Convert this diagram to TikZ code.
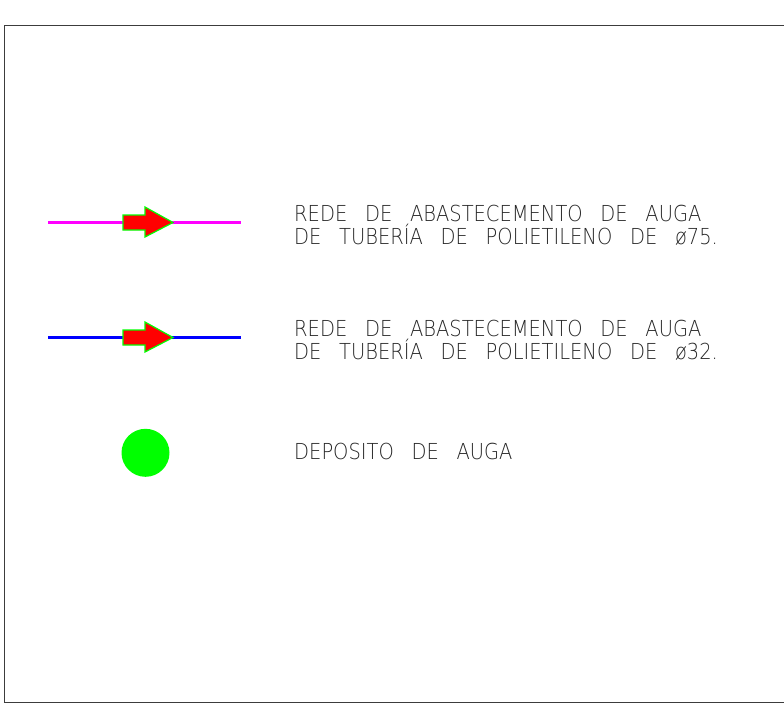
\documentclass[tikz,border=0pt]{standalone}
\usepackage{fontspec}
\setmainfont{DejaVu Sans ExtraLight}
\definecolor{cadgreen}{RGB}{0,255,0}
\definecolor{cadred}{RGB}{255,0,0}
\definecolor{cadmag}{RGB}{255,0,255}
\definecolor{cadblue}{RGB}{0,0,255}
\definecolor{framegray}{RGB}{60,60,60}
\newcommand{\W}{\hspace{20pt}}
\newcommand{\legline}[1]{\scalebox{0.885}[1]{#1}}
\begin{document}
\begin{tikzpicture}[x=1pt,y=-1pt,
  pipe/.style={line width=3pt},
  flowarrow/.style={fill=cadred,draw=cadgreen,line width=1.2pt,line join=miter},
  legtext/.style={inner sep=0pt,anchor=base west,text=black!85,font=\fontsize{22}{26}\selectfont},
  framel/.style={draw=framegray,line width=1.4pt}]
\useasboundingbox (0,0) rectangle (784,716);
% frame
\draw[framel] (790,25.5) -- (4.5,25.5) -- (4.5,702.5) -- (790,702.5);
% pipe 75
\coordinate (p1a) at (48,222.5);
\coordinate (p1b) at (241,222.5);
\draw[pipe,cadmag] (p1a) -- (p1b);
\draw[flowarrow] (123,215) -- (145,215) -- (145,207) -- (173,222.5) -- (145,237) -- (145,230) -- (123,230) -- cycle;
% pipe 32
\coordinate (p2a) at (48,337.5);
\coordinate (p2b) at (241,337.5);
\draw[pipe,cadblue] (p2a) -- (p2b);
\draw[flowarrow] (123,330) -- (145,330) -- (145,322) -- (173,337.5) -- (145,352) -- (145,345) -- (123,345) -- cycle;
% deposit
\node[circle,fill=cadgreen,minimum size=48pt,inner sep=0pt] (dep) at (145.5,452.8) {};
% texts
\node[legtext] (t1a) at (294,221.5) {\legline{REDE\W DE\W ABASTECEMENTO\W DE\W AUGA}};
\node[legtext] (t1b) at (294,244) {\legline{DE\W TUBERÍA\W DE\W POLIETILENO\W DE\W ø75.}};
\node[legtext] (t2a) at (294,336.5) {\legline{REDE\W DE\W ABASTECEMENTO\W DE\W AUGA}};
\node[legtext] (t2b) at (294,359.5) {\legline{DE\W TUBERÍA\W DE\W POLIETILENO\W DE\W ø32.}};
\node[legtext] (t3) at (294,459) {\legline{DEPOSITO\W DE\W AUGA}};
\end{tikzpicture}
\end{document}
